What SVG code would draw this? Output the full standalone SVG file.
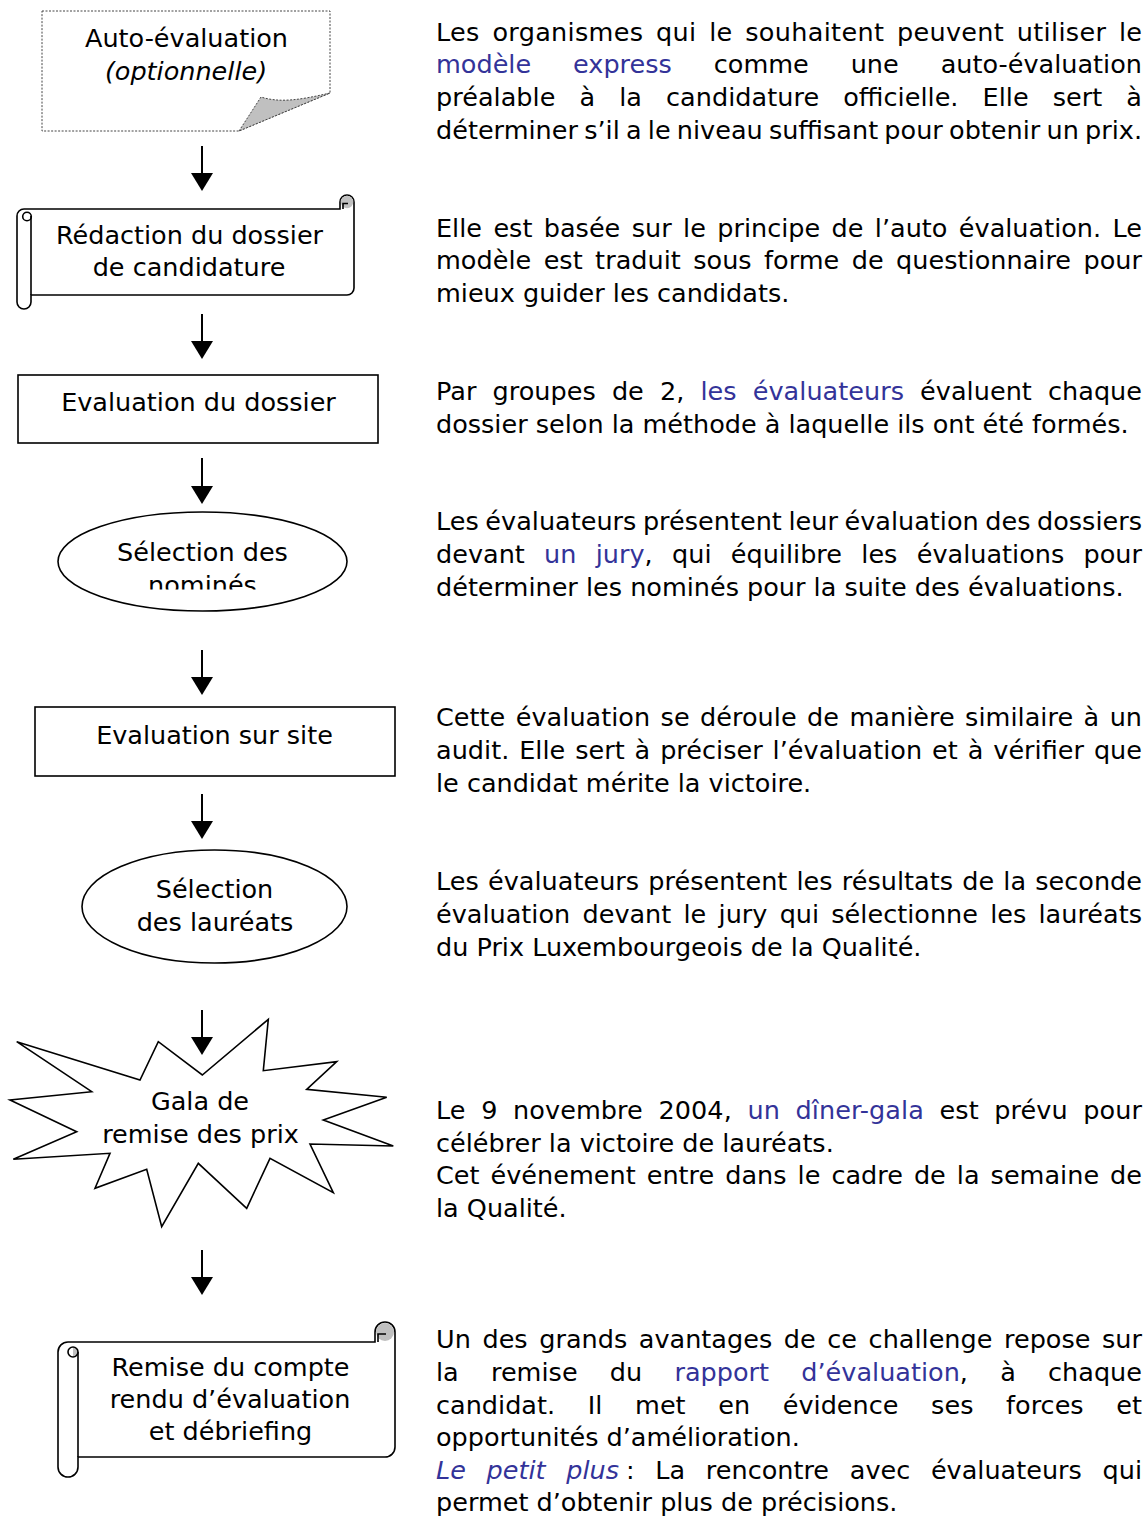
<svg xmlns="http://www.w3.org/2000/svg" width="1147" height="1517" viewBox="0 0 1147 1517">
<style>
.t{font-family:"DejaVu Sans","Liberation Sans",sans-serif;font-size:25.5px;fill:#000}
.c{text-anchor:middle}
.b{fill:#333399}
.i{font-style:italic}
.sh{fill:#fff;stroke:#000;stroke-width:1.6}
.ln{fill:none;stroke:#000;stroke-width:1.6}
.gr{fill:#c0c0c0;stroke:none}
.cn{stroke:#000;stroke-width:2;fill:none;marker-end:url(#ah)}
</style>
<defs>
<marker id="ah" markerUnits="userSpaceOnUse" markerWidth="20" markerHeight="22" refX="10" refY="11" orient="auto" viewBox="0 0 20 22">
<path d="M0,0 L18,11 L0,22 Z" fill="#000"/>
</marker>
<clipPath id="clipNom"><rect x="0" y="0" width="1147" height="589.5"/></clipPath>
</defs>
<rect width="1147" height="1517" fill="#fff"/>

<g id="connectors">
<path class="cn" d="M202,146 V183"/>
<path class="cn" d="M202,314 V351"/>
<path class="cn" d="M202,458 V496"/>
<path class="cn" d="M202,650 V687"/>
<path class="cn" d="M202,794 V831"/>
<path class="cn" d="M202,1010 V1047"/>
<path class="cn" d="M202,1250 V1287"/>
</g>

<g id="node-auto">
<path d="M42,11 H330 V93 L239,131 H42 Z" fill="#fff" stroke="#444" stroke-width="1" stroke-dasharray="2 1.5"/>
<path d="M239,131 L261,97 C280,103 300,100 330,93 Z" fill="#c0c0c0" stroke="#444" stroke-width="1" stroke-dasharray="2 1.5"/>
<text class="t c" x="186.5" y="47">Auto-évaluation</text>
<text class="t c i" x="186" y="80">(optionnelle)</text>
</g>

<g id="node-redaction">
<path class="sh" d="M17,216 A7,7 0 0 1 24,209 L340,209 L340,202 A7,7 0 0 1 354,202 L354,288 A7,7 0 0 1 347,295 L31,295 L31,302 A7,7 0 0 1 17,302 Z"/>
<circle class="gr" cx="347" cy="202" r="6.2"/>
<path class="ln" d="M343,209 V203.5 H348" stroke-width="1.2"/>
<path class="ln" d="M31,216 V295"/>
<circle class="ln" cx="27" cy="216.5" r="4.3"/>
<text class="t c" x="189.5" y="244">Rédaction du dossier</text>
<text class="t c" x="189" y="276">de candidature</text>
</g>

<g id="node-evaluation-dossier">
<rect class="sh" x="18" y="375" width="360" height="68"/>
<text class="t c" x="198.5" y="411">Evaluation du dossier</text>
</g>

<g id="node-selection-nomines">
<ellipse class="sh" cx="202.5" cy="561.5" rx="144.5" ry="49.5"/>
<text class="t c" x="202.5" y="561">Sélection des</text>
<text class="t c" x="202.5" y="594" clip-path="url(#clipNom)">nominés</text>
</g>

<g id="node-evaluation-site">
<rect class="sh" x="35" y="707" width="360" height="69"/>
<text class="t c" x="214.5" y="744">Evaluation sur site</text>
</g>

<g id="node-selection-laureats">
<ellipse class="sh" cx="214.5" cy="906.5" rx="132.5" ry="56.5"/>
<text class="t c" x="214.5" y="898">Sélection</text>
<text class="t c" x="215" y="931">des lauréats</text>
</g>

<g id="node-gala">
<polygon class="sh" points="16.7,1041.7 140,1080 158.3,1041.7 202.3,1075 268.3,1019.3 263.3,1070.7 336.7,1061.7 306.7,1089.3 386.7,1097.3 323.3,1120 393.3,1146 310,1144 333.3,1192.7 270,1158.3 246.7,1208.3 198.3,1163.3 161.7,1226.7 146.7,1169.3 95,1188.3 110,1153.3 13.3,1159.3 76.7,1131.7 10,1100 91.7,1091.7"/>
<text class="t c" x="200" y="1110">Gala de</text>
<text class="t c" x="200.5" y="1143">remise des prix</text>
</g>

<g id="node-remise">
<path class="sh" d="M58,1352 A10,10 0 0 1 68,1342 L375,1342 L375,1332 A10,10 0 0 1 395,1332 L395,1447 A10,10 0 0 1 385,1457 L78,1457 L78,1467 A10,10 0 0 1 58,1467 Z"/>
<circle class="gr" cx="385" cy="1332" r="9"/>
<path class="ln" d="M378,1342 V1334 H386" stroke-width="1.2"/>
<path class="ln" d="M78,1352 V1457"/>
<path class="gr" d="M73,1347 A5,5 0 0 1 73,1357 Z"/>
<circle class="ln" cx="73" cy="1352" r="5"/>
<text class="t c" x="230.5" y="1376">Remise du compte</text>
<text class="t c" x="230" y="1408">rendu d’évaluation</text>
<text class="t c" x="230.5" y="1440">et débriefing</text>
</g>

<g id="descriptions">
<text class="t" x="436" y="41" word-spacing="4.3" textLength="706" lengthAdjust="spacing">Les organismes qui le souhaitent peuvent utiliser le</text>
<text class="t" x="436" y="73" word-spacing="33.8" textLength="706" lengthAdjust="spacing"><tspan class="b">modèle express</tspan> comme une auto-évaluation</text>
<text class="t" x="436" y="106" word-spacing="15.9" textLength="706" lengthAdjust="spacing">préalable à la candidature officielle. Elle sert à</text>
<text class="t" x="436" y="139" word-spacing="-1.9" textLength="706" lengthAdjust="spacing">déterminer s’il a le niveau suffisant pour obtenir un prix.</text>

<text class="t" x="436" y="237" word-spacing="3.3" textLength="706" lengthAdjust="spacing">Elle est basée sur le principe de l’auto évaluation. Le</text>
<text class="t" x="436" y="269" word-spacing="4.3" textLength="706" lengthAdjust="spacing">modèle est traduit sous forme de questionnaire pour</text>
<text class="t" x="436" y="302">mieux guider les candidats.</text>

<text class="t" x="436" y="400" word-spacing="8" textLength="706" lengthAdjust="spacing">Par groupes de 2, <tspan class="b">les évaluateurs</tspan> évaluent chaque</text>
<text class="t" x="436" y="433">dossier selon la méthode à laquelle ils ont été formés.</text>

<text class="t" x="436" y="530" word-spacing="-1.6" textLength="706" lengthAdjust="spacing">Les évaluateurs présentent leur évaluation des dossiers</text>
<text class="t" x="436" y="563" word-spacing="11.2" textLength="706" lengthAdjust="spacing">devant <tspan class="b">un jury</tspan>, qui équilibre les évaluations pour</text>
<text class="t" x="436" y="596">déterminer les nominés pour la suite des évaluations.</text>

<text class="t" x="436" y="726" word-spacing="2.3" textLength="706" lengthAdjust="spacing">Cette évaluation se déroule de manière similaire à un</text>
<text class="t" x="436" y="759" word-spacing="1.8" textLength="706" lengthAdjust="spacing">audit. Elle sert à préciser l’évaluation et à vérifier que</text>
<text class="t" x="436" y="792">le candidat mérite la victoire.</text>

<text class="t" x="436" y="890" word-spacing="1" textLength="706" lengthAdjust="spacing">Les évaluateurs présentent les résultats de la seconde</text>
<text class="t" x="436" y="923" word-spacing="4.1" textLength="706" lengthAdjust="spacing">évaluation devant le jury qui sélectionne les lauréats</text>
<text class="t" x="436" y="956">du Prix Luxembourgeois de la Qualité.</text>

<text class="t" x="436" y="1119" word-spacing="7.4" textLength="706" lengthAdjust="spacing">Le 9 novembre 2004, <tspan class="b">un dîner-gala</tspan> est prévu pour</text>
<text class="t" x="436" y="1152">célébrer la victoire de lauréats.</text>
<text class="t" x="436" y="1184" word-spacing="2.9" textLength="706" lengthAdjust="spacing">Cet événement entre dans le cadre de la semaine de</text>
<text class="t" x="436" y="1217">la Qualité.</text>

<text class="t" x="436" y="1348" word-spacing="3.5" textLength="706" lengthAdjust="spacing">Un des grands avantages de ce challenge repose sur</text>
<text class="t" x="436" y="1381" word-spacing="24.1" textLength="706" lengthAdjust="spacing">la remise du <tspan class="b">rapport d’évaluation</tspan>, à chaque</text>
<text class="t" x="436" y="1414" word-spacing="24.5" textLength="706" lengthAdjust="spacing">candidat. Il met en évidence ses forces et</text>
<text class="t" x="436" y="1446">opportunités d’amélioration.</text>
<text class="t" x="436" y="1479" word-spacing="12.6" textLength="706" lengthAdjust="spacing"><tspan class="b i">Le petit plus</tspan><tspan dx="7">:</tspan> La rencontre avec évaluateurs qui</text>
<text class="t" x="436" y="1511">permet d’obtenir plus de précisions.</text>
</g>
</svg>
